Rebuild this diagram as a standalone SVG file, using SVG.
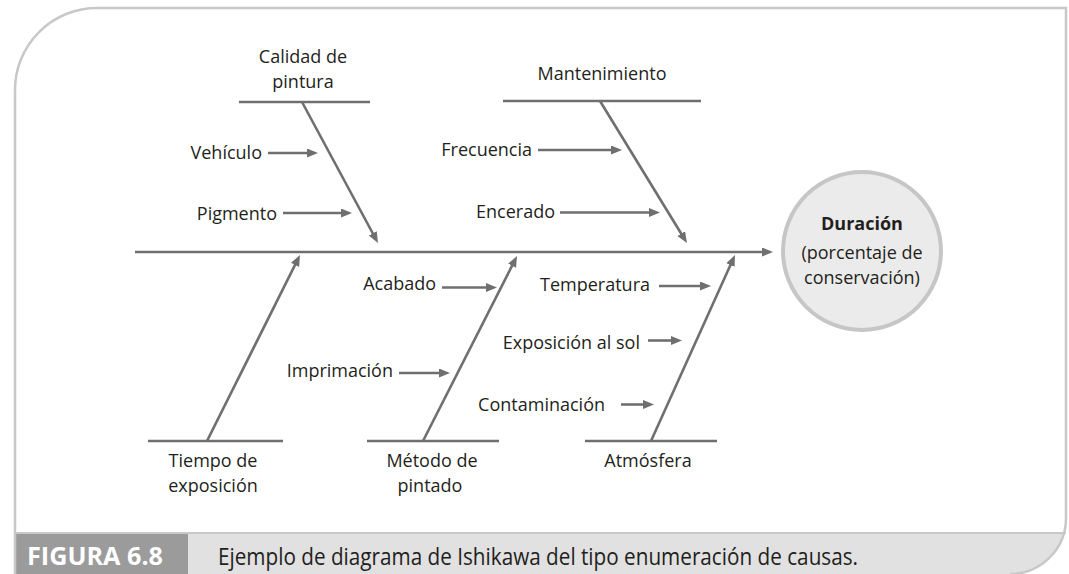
<svg xmlns="http://www.w3.org/2000/svg" width="1069" height="574" viewBox="0 0 1069 574">
<style>
.ln{stroke:#6f6f6f;stroke-width:2.6;fill:none}
.ar{stroke:#6f6f6f;stroke-width:2.6;fill:none;marker-end:url(#ah)}
.t{font-family:"Open Sans","Liberation Sans",sans-serif;font-size:18px;fill:#231f20}
.m{text-anchor:middle}
.e{text-anchor:end}
</style>
<defs>
<marker id="ah" markerUnits="userSpaceOnUse" markerWidth="12" markerHeight="10" refX="3" refY="4.5" orient="auto">
<path d="M0,0 L11,4.5 L0,9 Z" fill="#6f6f6f"/>
</marker>
<clipPath id="fc"><path d="M15,574 V90 A82,82 0 0 1 97,8 H1066 V518 A56,56 0 0 1 1010,574 Z"/></clipPath>
</defs>
<rect width="1069" height="574" fill="#ffffff"/>
<g id="frame">
<g clip-path="url(#fc)">
<rect x="0" y="533" width="1069" height="41" fill="#e1e1e1"/>
<rect x="15" y="533" width="173" height="41" fill="#9b9b9b"/>
</g>
<line x1="15" y1="533" x2="1066" y2="533" stroke="#c8c8c8" stroke-width="2"/>
<path d="M15,574 V90 A82,82 0 0 1 97,8 H1066 V518 A56,56 0 0 1 1010,574" fill="none" stroke="#c8c8c8" stroke-width="2.5"/>
<text x="27" y="565" font-family="'Open Sans','Liberation Sans',sans-serif" font-weight="bold" font-size="25" fill="#ffffff" textLength="136" lengthAdjust="spacingAndGlyphs">FIGURA 6.8</text>
<text x="218" y="565" font-family="'Open Sans','Liberation Sans',sans-serif" font-size="24" fill="#231f20" textLength="640" lengthAdjust="spacingAndGlyphs">Ejemplo de diagrama de Ishikawa del tipo enumeración de causas.</text>
</g>
<g id="connectors">
<line class="ar" x1="135" y1="252" x2="765" y2="252"/>
<line class="ln" x1="239" y1="102" x2="370" y2="102"/>
<line class="ar" x1="302" y1="102" x2="374.2" y2="236"/>
<line class="ln" x1="503" y1="101" x2="701" y2="101"/>
<line class="ar" x1="600" y1="101" x2="682.8" y2="236.2"/>
<line class="ln" x1="148" y1="441" x2="283" y2="441"/>
<line class="ar" x1="207" y1="441" x2="296.4" y2="262.2"/>
<line class="ln" x1="367" y1="441" x2="499" y2="441"/>
<line class="ar" x1="423" y1="441" x2="513.4" y2="263.1"/>
<line class="ln" x1="585" y1="441" x2="717" y2="441"/>
<line class="ar" x1="651" y1="441" x2="731.7" y2="262.3"/>
<line class="ar" x1="268" y1="153" x2="310" y2="153"/>
<line class="ar" x1="283" y1="213" x2="344" y2="213"/>
<line class="ar" x1="538" y1="150" x2="614" y2="150"/>
<line class="ar" x1="560" y1="212.5" x2="652" y2="212.5"/>
<line class="ar" x1="442" y1="287.5" x2="489" y2="287.5"/>
<line class="ar" x1="399" y1="373" x2="442" y2="373"/>
<line class="ar" x1="659" y1="286" x2="703" y2="286"/>
<line class="ar" x1="648" y1="340.5" x2="674" y2="340.5"/>
<line class="ar" x1="621" y1="404.5" x2="646" y2="404.5"/>
</g>
<g id="effect">
<circle cx="862" cy="251" r="79" fill="#ebebeb" stroke="#c6c6c6" stroke-width="4"/>
<text class="t m" x="862" y="230" font-weight="bold">Duración</text>
<text class="t m" x="862" y="259">(porcentaje de</text>
<text class="t m" x="862" y="284">conservación)</text>
</g>
<g id="calidad">
<text class="t m" x="303" y="63">Calidad de</text>
<text class="t m" x="303" y="88">pintura</text>
</g>
<g id="vehiculo"><text class="t e" x="262" y="159">Vehículo</text></g>
<g id="pigmento"><text class="t e" x="277" y="220">Pigmento</text></g>
<g id="mantenimiento"><text class="t m" x="602" y="80">Mantenimiento</text></g>
<g id="frecuencia"><text class="t e" x="532" y="156">Frecuencia</text></g>
<g id="encerado"><text class="t e" x="555" y="218">Encerado</text></g>
<g id="tiempo">
<text class="t m" x="213" y="467">Tiempo de</text>
<text class="t m" x="213" y="492">exposición</text>
</g>
<g id="metodo">
<text class="t m" x="432" y="467">Método de</text>
<text class="t m" x="430" y="492">pintado</text>
</g>
<g id="acabado"><text class="t e" x="436" y="290">Acabado</text></g>
<g id="imprimacion"><text class="t e" x="393" y="377">Imprimación</text></g>
<g id="atmosfera"><text class="t m" x="648" y="467">Atmósfera</text></g>
<g id="temperatura"><text class="t e" x="650" y="291">Temperatura</text></g>
<g id="exposicion"><text class="t e" x="640" y="349">Exposición al sol</text></g>
<g id="contaminacion"><text class="t e" x="605" y="411">Contaminación</text></g>
</svg>
